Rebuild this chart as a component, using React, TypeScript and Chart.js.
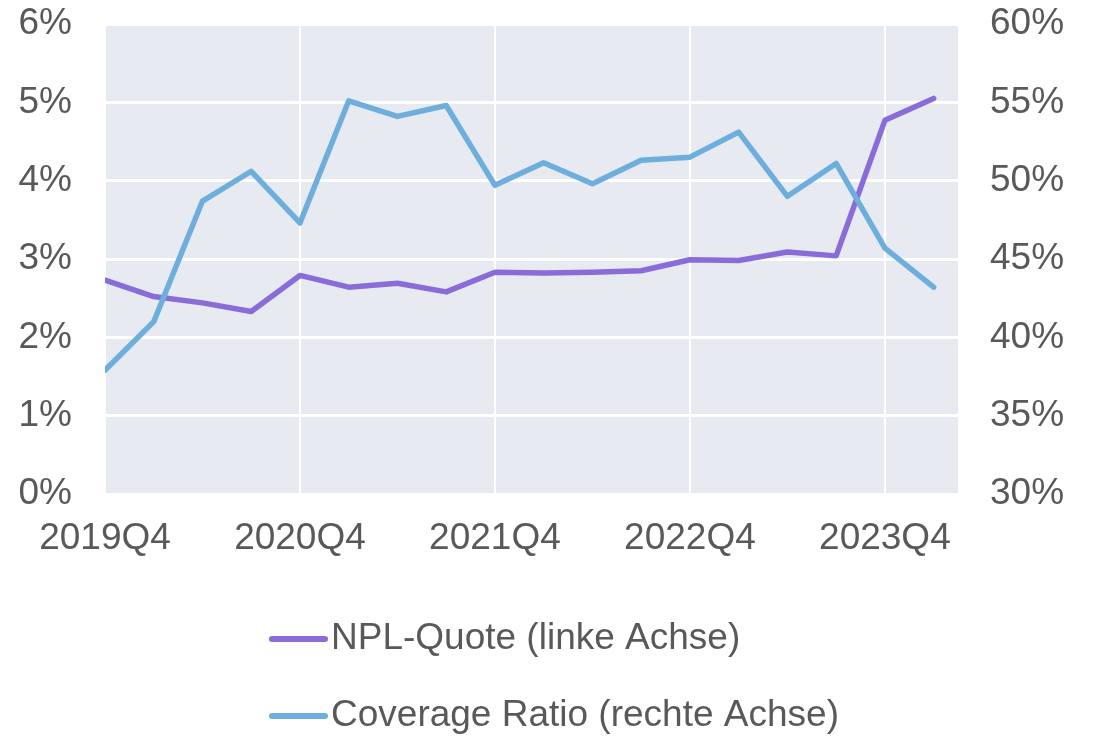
import { useEffect, useRef } from "react";
import { Chart, registerables } from "chart.js";

Chart.register(...registerables);

const quarters = [
  "2019Q4", "2020Q1", "2020Q2", "2020Q3", "2020Q4", "2021Q1", "2021Q2", "2021Q3",
  "2021Q4", "2022Q1", "2022Q2", "2022Q3", "2022Q4", "2023Q1", "2023Q2", "2023Q3",
  "2023Q4", "2024Q1",
];
const nplQuote = [
  2.73, 2.52, 2.44, 2.33, 2.79, 2.64, 2.69, 2.58, 2.83, 2.82, 2.83, 2.85, 2.99, 2.98,
  3.09, 3.04, 4.77, 5.05,
];
const coverageRatio = [
  37.9, 41.0, 48.7, 50.6, 47.3, 55.1, 54.1, 54.8, 49.7, 51.15, 49.8, 51.3, 51.5, 53.1,
  49.0, 51.1, 45.7, 43.2,
];
const xTickLabels = ["2019Q4", "2020Q4", "2021Q4", "2022Q4", "2023Q4"];
const leftTicks = [0, 1, 2, 3, 4, 5, 6];
const rightTicks = [30, 35, 40, 45, 50, 55, 60];

const seriesLabels = ["NPL-Quote (linke Achse)", "Coverage Ratio (rechte Achse)"];
const seriesColors = ["#8a6cd9", "#6eaedc"];

const FONT = "'Liberation Sans', Arial, sans-serif";
const TEXT = "#595959";

function zeroPadding(scale: any) {
  scale.paddingTop = 0;
  scale.paddingBottom = 0;
  scale.paddingLeft = 0;
  scale.paddingRight = 0;
}

export default function App() {
  const ref = useRef<HTMLCanvasElement | null>(null);

  useEffect(() => {
    if (!ref.current) return;

    const bgPlugin = {
      id: "plotBg",
      beforeDraw(chart: any) {
        const { ctx, chartArea } = chart;
        ctx.save();
        ctx.fillStyle = "#e8eaf2";
        ctx.fillRect(chartArea.left, chartArea.top, chartArea.right - chartArea.left, chartArea.bottom - chartArea.top);
        ctx.restore();
      },
    };

    const legendPlugin = {
      id: "stackedLegend",
      afterDraw(chart: any) {
        const ctx = chart.ctx;
        ctx.save();
        chart.data.datasets.forEach((ds: any, i: number) => {
          const y = 639 + i * 77;
          ctx.strokeStyle = ds.borderColor;
          ctx.lineWidth = 6;
          ctx.lineCap = "round";
          ctx.beginPath();
          ctx.moveTo(272, y);
          ctx.lineTo(325, y);
          ctx.stroke();
          ctx.fillStyle = TEXT;
          ctx.font = `37px ${FONT}`;
          ctx.textAlign = "left";
          ctx.textBaseline = "middle";
          ctx.fillText(ds.label, 331, y);
        });
        ctx.restore();
      },
    };

    const chart = new Chart(ref.current, {
      type: "line",
      data: {
        datasets: [
          {
            label: seriesLabels[0],
            data: nplQuote.map((v, i) => ({ x: i, y: v })),
            borderColor: seriesColors[0],
            backgroundColor: seriesColors[0],
            yAxisID: "y",
            order: 2,
          },
          {
            label: seriesLabels[1],
            data: coverageRatio.map((v, i) => ({ x: i, y: v })),
            borderColor: seriesColors[1],
            backgroundColor: seriesColors[1],
            yAxisID: "y1",
            order: 1,
          },
        ],
      },
      options: {
        animation: false,
        responsive: false,
        events: [],
        layout: { autoPadding: false, padding: { top: 24, left: 0, right: 0, bottom: 0 } },
        elements: {
          line: { borderWidth: 5.5, tension: 0, borderCapStyle: "round", borderJoinStyle: "round" },
          point: { radius: 0 },
        },
        plugins: { legend: { display: false }, tooltip: { enabled: false } },
        scales: {
          x: {
            type: "linear",
            min: 0,
            max: 17.5,
            afterBuildTicks(scale: any) {
              scale.ticks = xTickLabels.map((q) => ({ value: quarters.indexOf(q) }));
            },
            afterFit(scale: any) {
              scale.height = 242;
              zeroPadding(scale);
            },
            border: { display: false },
            grid: { color: "#ffffff", lineWidth: 2, drawTicks: false },
            ticks: {
              autoSkip: false,
              maxRotation: 0,
              padding: 23,
              color: TEXT,
              font: { family: FONT, size: 37 },
              callback: (v: any) => quarters[Number(v)] ?? "",
            },
          },
          y: {
            position: "left",
            min: 0,
            max: 6,
            afterBuildTicks(scale: any) {
              scale.ticks = leftTicks.map((v) => ({ value: v }));
            },
            afterFit(scale: any) {
              scale.width = 105;
              zeroPadding(scale);
            },
            border: { display: false },
            grid: { color: "#ffffff", lineWidth: 3, drawTicks: false },
            ticks: {
              padding: 33,
              color: TEXT,
              font: { family: FONT, size: 37 },
              callback: (v: any) => `${v}%`,
            },
          },
          y1: {
            position: "right",
            min: 30,
            max: 60,
            afterBuildTicks(scale: any) {
              scale.ticks = rightTicks.map((v) => ({ value: v }));
            },
            afterFit(scale: any) {
              scale.width = 136;
              zeroPadding(scale);
            },
            border: { display: false },
            grid: { drawOnChartArea: false, drawTicks: false },
            ticks: {
              padding: 32,
              color: TEXT,
              font: { family: FONT, size: 37 },
              callback: (v: any) => `${v}%`,
            },
          },
        },
      },
      plugins: [bgPlugin, legendPlugin],
    } as any);

    return () => chart.destroy();
  }, []);

  return (
    <div style={{ position: "absolute", left: 0, top: 0, width: 1094, height: 736 }}>
      <canvas ref={ref} width={1094} height={736} style={{ display: "block" }} />
    </div>
  );
}
